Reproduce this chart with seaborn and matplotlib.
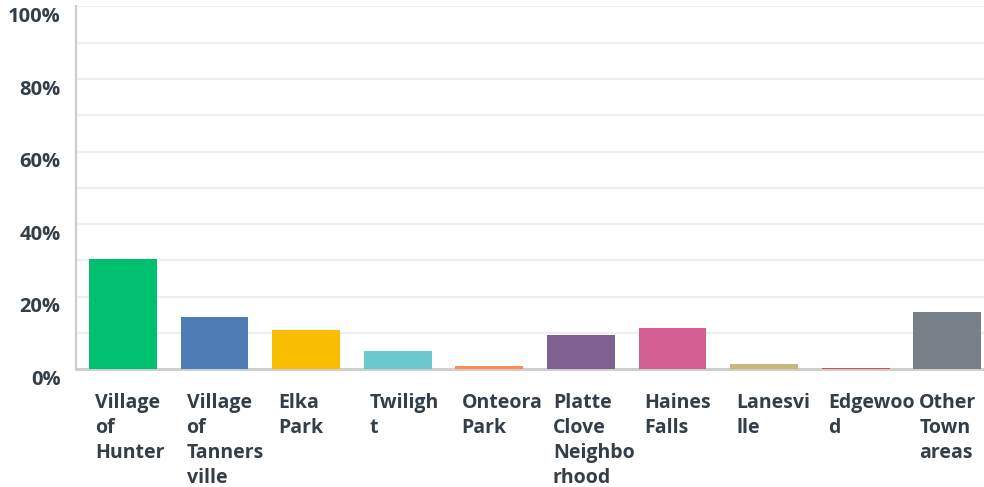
import matplotlib
matplotlib.use("Agg")
import matplotlib.pyplot as plt
import matplotlib.transforms as mtransforms
import seaborn as sns
import pandas as pd

categories = ["Village of Hunter", "Village of Tannersville", "Elka Park", "Twilight",
              "Onteora Park", "Platte Clove Neighborhood", "Haines Falls", "Lanesville",
              "Edgewood", "Other Town areas"]
tick_labels = ["Village\nof\nHunter", "Village\nof\nTanners\nville", "Elka\nPark", "Twiligh\nt",
               "Onteora\nPark", "Platte\nClove\nNeighbo\nrhood", "Haines\nFalls", "Lanesvi\nlle",
               "Edgewoo\nd", "Other\nTown\nareas"]
values = [30.4, 14.4, 10.8, 5.0, 0.9, 9.5, 11.4, 1.5, 0.4, 15.8]
colors = ["#00BF6F", "#507CB6", "#F9BE00", "#6BC8CD", "#FF8B4F",
          "#7F5F90", "#D25F90", "#C9B87A", "#E0464E", "#768086"]
y_ticks = [0, 20, 40, 60, 80, 100]
y_tick_labels = ["0%", "20%", "40%", "60%", "80%", "100%"]

sns.set_style("white")
plt.rcParams["font.family"] = ["Open Sans", "DejaVu Sans"]

df = pd.DataFrame({"cat": categories, "val": values})

fig = plt.figure(figsize=(9.84, 4.87), dpi=100)
ax = fig.add_axes([76 / 984, 117.7 / 487, 1 - 76 / 984, 0.745])

sns.barplot(data=df, x="cat", y="val", hue="cat", palette=colors, width=0.74,
            legend=False, ax=ax, saturation=1, linewidth=0)
for p in ax.patches:
    p.set_zorder(4)

ax.set_xlim(-0.513, 9.40)
ax.set_ylim(0, 100)
ax.set_axisbelow(True)

ax.set_yticks(y_ticks)
ax.set_yticks([10, 30, 50, 70, 90], minor=True)
ax.yaxis.grid(True, which="both", color="#eeeeee", linewidth=1.6)
ax.set_yticklabels(y_tick_labels, fontsize=14.5, fontweight="bold", color="#333E48")
ax.tick_params(axis="y", which="both", length=0, pad=11)
off_y = mtransforms.ScaledTranslation(0, -8 / 100, fig.dpi_scale_trans)
for lbl in ax.get_yticklabels():
    lbl.set_transform(lbl.get_transform() + off_y)

ax.set_xticks(range(len(categories)))
ax.set_xticklabels(tick_labels, fontsize=14, fontweight="bold", color="#333E48",
                   ha="left", va="top", linespacing=1.33)
ax.tick_params(axis="x", length=0, pad=17)
off_x = mtransforms.ScaledTranslation(-28 / 100, 0, fig.dpi_scale_trans)
for lbl in ax.get_xticklabels():
    lbl.set_transform(lbl.get_transform() + off_x)

ax.set_xlabel("")
ax.set_ylabel("")
for s in ["top", "right"]:
    ax.spines[s].set_visible(False)
ax.spines["left"].set_color("#cccccc")
ax.spines["left"].set_linewidth(1.5)
ax.spines["bottom"].set_color("#cccccc")
ax.spines["bottom"].set_linewidth(2)
ax.spines["bottom"].set_zorder(2)

fig.savefig("out.png", dpi=100)
